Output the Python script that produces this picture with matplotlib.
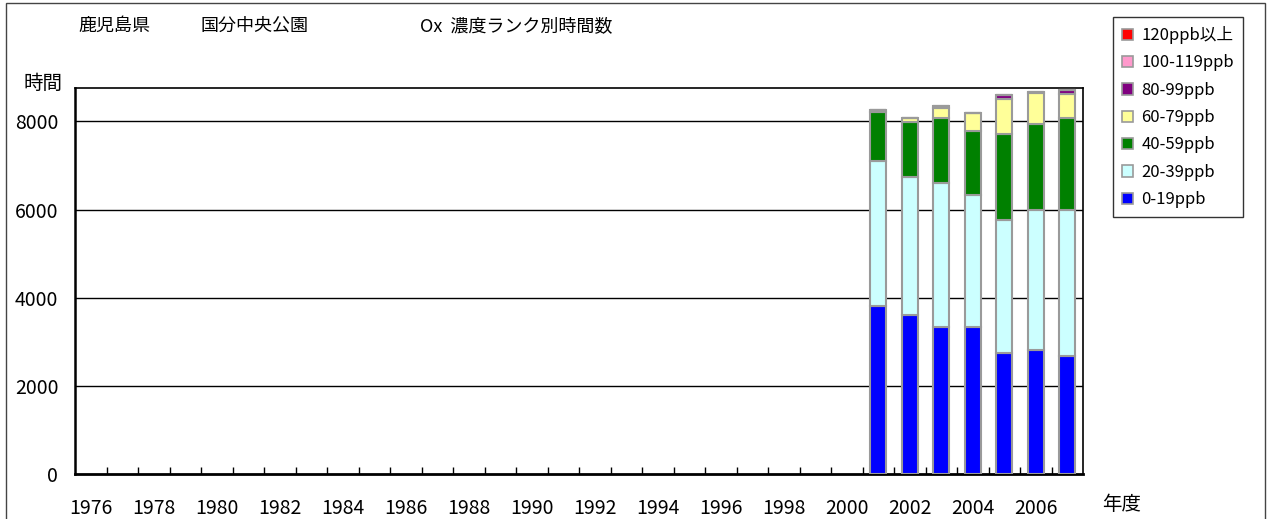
import matplotlib
matplotlib.use('Agg')
import matplotlib.pyplot as plt
from matplotlib.patches import Patch, Rectangle
import numpy as np

plt.rcParams['font.family'] = ['Noto Sans CJK JP', 'DejaVu Sans']

# categories (fiscal years) shown on the x axis
years = list(range(1976, 2008))
tick_years = [y for y in years if y % 2 == 0 and y <= 2006]

# years that have measurements
data_years = [2001, 2002, 2003, 2004, 2005, 2006, 2007]

# hours per concentration rank
r0_19 = [3820, 3600, 3340, 3340, 2750, 2810, 2675]
r20_39 = [3285, 3140, 3265, 3000, 3010, 3180, 3315]
r40_59 = [1105, 1250, 1480, 1440, 1965, 1960, 2095]
r60_79 = [40, 90, 225, 405, 775, 690, 540]
r80_99 = [0, 0, 40, 0, 110, 30, 80]
r100_119 = [0, 0, 0, 0, 0, 0, 0]
r120 = [0, 0, 0, 0, 0, 0, 0]

series = [r0_19, r20_39, r40_59, r60_79, r80_99, r100_119, r120]
labels = ['0-19ppb', '20-39ppb', '40-59ppb', '60-79ppb', '80-99ppb',
          '100-119ppb', '120ppb以上']
colors = ['#0000FF', '#CCFFFF', '#008000', '#FFFF99', '#800080',
          '#FF99CC', '#FF0000']

W, H = 1271, 519
fig = plt.figure(figsize=(W / 100, H / 100), dpi=100)
ax = fig.add_axes([75 / W, (H - 474) / H, 1008 / W, 386 / H])

x = np.array([years.index(y) for y in data_years])
bottom = np.zeros(len(data_years))
for vals, c in zip(series, colors):
    vals = np.array(vals, dtype=float)
    ax.bar(x, vals, width=0.5, bottom=bottom, color=c,
           edgecolor='#9a9a9a', linewidth=1.5, zorder=3)
    bottom += vals

ax.set_xlim(-0.5, len(years) - 0.5)
ax.set_ylim(0, 8760)

# grid lines
ax.set_yticks([0, 2000, 4000, 6000, 8000])
ax.set_yticklabels(['0', '2000', '4000', '6000', '8000'], fontsize=14)
ax.tick_params(axis='y', length=0, pad=12)
for v in [2000, 4000, 6000, 8000]:
    ax.axhline(v, color='black', linewidth=1, zorder=1)

ax.set_xticks([years.index(y) for y in tick_years])
ax.set_xticklabels([str(y) for y in tick_years], fontsize=14)
ax.tick_params(axis='x', which='major', length=0, pad=17)
ax.set_xticks(np.arange(0.5, len(years) - 1, 1.0), minor=True)
ax.tick_params(axis='x', which='minor', direction='in', length=5,
               width=1, color='black')

for s in ['top', 'right']:
    ax.spines[s].set_linewidth(1.2)
ax.spines['left'].set_linewidth(1.8)
ax.spines['bottom'].set_linewidth(2)

# texts
fig.text(78 / W, 1 - 26 / H, '鹿児島県', fontsize=13, va='center')
fig.text(200 / W, 1 - 26 / H, '国分中央公園', fontsize=13, va='center')
fig.text(420 / W, 1 - 26 / H, 'Ox  濃度ランク別時間数', fontsize=13, va='center')
fig.text(43 / W, 1 - 83 / H, '時間', fontsize=14, va='center', ha='center')
fig.text(1122 / W, 1 - 504 / H, '年度', fontsize=14, va='center', ha='center')

# legend
handles = [Patch(facecolor=c, edgecolor='#9a9a9a', linewidth=1.2)
           for c in colors[::-1]]
leg = fig.legend(handles, labels[::-1], loc='upper left',
                 bbox_to_anchor=(1113 / W, 1 - 17 / H), borderaxespad=0,
                 fontsize=12, frameon=True, fancybox=False,
                 handlelength=0.65, handleheight=0.65, handletextpad=0.5,
                 labelspacing=0.62, borderpad=0.55)
leg.get_frame().set_edgecolor('black')
leg.get_frame().set_linewidth(1)

# outer frame
fig.patches.append(Rectangle((6 / W, -0.05), 1259 / W, 1.05 - 3 / H,
                             transform=fig.transFigure, fill=False,
                             edgecolor='#444444', linewidth=1))

fig.savefig('out.png', dpi=100)
